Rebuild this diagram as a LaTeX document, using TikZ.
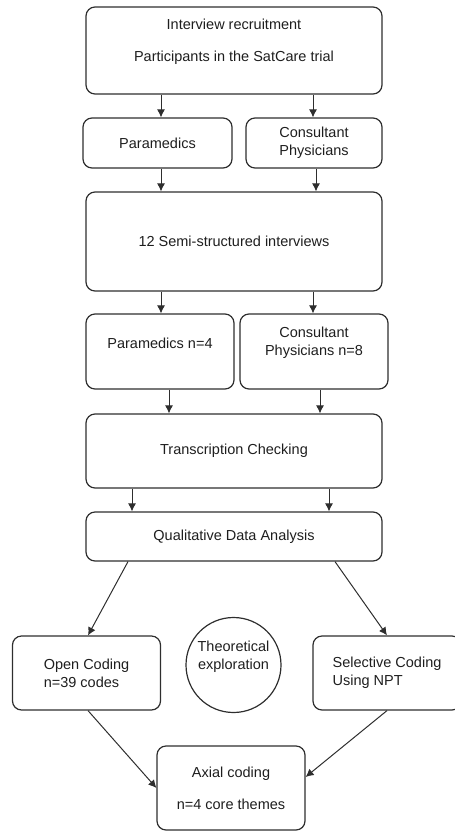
\documentclass[tikz,border=0pt]{standalone}
\usepackage{fontspec}
\setmainfont{Liberation Sans}
\usepackage{xcolor}
\usetikzlibrary{arrows.meta,calc}
\definecolor{flowink}{HTML}{1E1E1E}
\definecolor{flowline}{HTML}{2E2E2E}

\begin{document}
\begin{tikzpicture}[x=1pt,y=-1pt,
  text=flowink,
  flowbox/.style={draw=flowline,line width=1.2pt,rounded corners=9pt,align=center,inner sep=0pt,font=\fontsize{14.5}{18}\selectfont},
  widebox/.style={flowbox,minimum width=296pt},
  halfbox/.style={flowbox,minimum width=148pt},
  codebox/.style={flowbox,minimum width=148pt,minimum height=74pt,align=left},
  ideacircle/.style={draw=flowline,line width=1.2pt,circle,minimum size=95pt,inner sep=0pt,align=center,font=\fontsize{14.5}{18}\selectfont},
  connector/.style={-{Latex[length=8pt,width=8pt]},draw=flowline,line width=1pt}
]
\path[use as bounding box] (0,0) rectangle (455,831);

% Recruitment and interviews
\node[widebox,minimum height=87pt,text depth=20pt] (recruit) at (234,50.5) {Interview recruitment\\[14pt]Participants in the SatCare trial};
\node[halfbox,minimum width=149pt,minimum height=50pt] (para) at (157.5,143) {Paramedics};
\node[halfbox,minimum width=136pt,minimum height=50pt] (consult) at (314,143) {Consultant\\Physicians};
\node[widebox,minimum height=99pt] (semi) at (234,241.5) {12 Semi-structured interviews};
\node[halfbox,minimum height=75pt,text depth=17pt] (paran) at (160,351.5) {Paramedics n=4};
\node[halfbox,minimum height=75pt,text depth=20pt] (consn) at (314,351.5) {Consultant\\Physicians n=8};

% Analysis
\node[widebox,minimum height=74pt] (trans) at (234,451) {Transcription Checking};
\node[widebox,minimum height=49pt] (qda) at (234,536.5) {Qualitative Data Analysis};
\node[codebox] (open) at (86.5,673) {Open Coding\\n=39 codes};
\node[ideacircle,text depth=19pt] (theory) at (233.5,665) {Theoretical\\exploration};
\node[codebox] (select) at (387,673) {Selective Coding\\Using NPT};
\node[halfbox,minimum height=84pt] (axial) at (231,788) {Axial coding\\[14pt]n=4 core themes};

% Vertical flow
\draw[connector] ($(para.north |- recruit.south)+(3.5,0)$) -- ($(para.north)+(3.5,0)$);
\draw[connector] ($(consult.north |- recruit.south)+(-1,0)$) -- ($(consult.north)+(-1,0)$);
\draw[connector] ($(para.south)+(3.5,0)$) -- ($(para.south |- semi.north)+(3.5,0)$);
\draw[connector] ($(consult.south)+(2,0)$) -- ($(consult.south |- semi.north)+(2,0)$);
\draw[connector] ($(paran.north |- semi.south)+(1,0)$) -- ($(paran.north)+(1,0)$);
\draw[connector] ($(consn.north |- semi.south)+(-1,0)$) -- ($(consn.north)+(-1,0)$);
\draw[connector] ($(paran.south)+(9,0)$) -- ($(paran.south |- trans.north)+(9,0)$);
\draw[connector] ($(consn.south)+(6,0)$) -- ($(consn.south |- trans.north)+(6,0)$);
\draw[connector] ($(trans.south)+(-102,0)$) -- ($(qda.north)+(-102,0)$);
\draw[connector] ($(trans.south)+(95,0)$) -- ($(qda.north)+(95,0)$);

% Coding branches
\draw[connector] ($(qda.south)+(-106,0)$) -- ($(open.north)+(1.5,0)$);
\draw[connector] ($(qda.south)+(101,0)$) -- (select.north);
\draw[connector] ($(open.south)+(1.5,0)$) -- (axial.west);
\draw[connector] (select.south) -- ($(axial.east)+(0,-11)$);

\end{tikzpicture}
\end{document}
